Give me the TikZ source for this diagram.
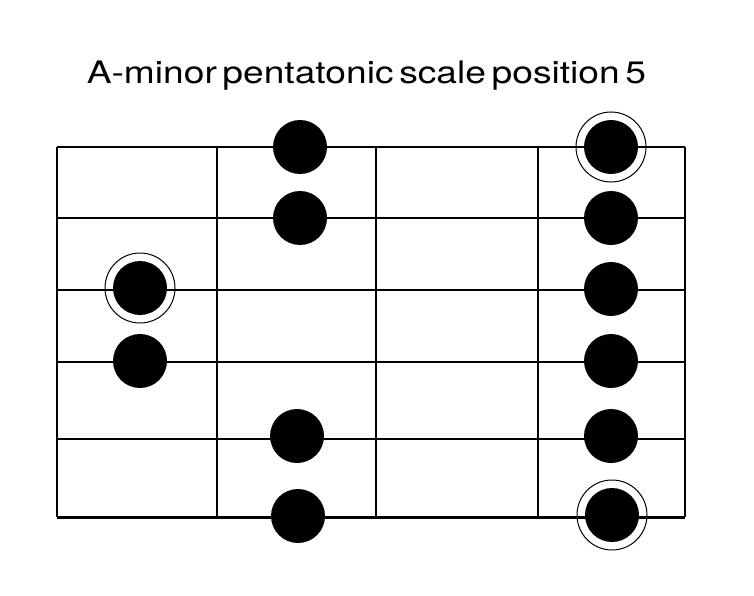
\documentclass[tikz,border=0pt]{standalone}
\usepackage{fontspec}
\setmainfont{TeX Gyre Heros}
\begin{document}
\begin{tikzpicture}[x=1pt,y=-1pt,
  gridline/.style={line width=2pt,black},
  thickstring/.style={line width=3pt,black},
  dotnote/.style={circle,fill=black,minimum size=54pt,inner sep=0pt},
  rootring/.style={circle,draw=black,line width=1pt,minimum size=70pt,inner sep=0pt},
  titletext/.style={font=\fontsize{31pt}{36pt}\selectfont,anchor=base,inner sep=0pt}]
\useasboundingbox[fill=white] (0,0) rectangle (754,596);
% title
\node[titletext] (title) at (366.5,84) {\scalebox{1.2}[1]{\spaceskip=0.15em A-minor pentatonic scale position 5}};
% strings
\foreach \n/\y in {s1/147,s2/218,s3/289.5,s4/361.5,s5/438.5}{
  \coordinate (\n L) at (57,\y);
  \coordinate (\n R) at (685,\y);
  \draw[gridline] (\n L) -- (\n R);
}
\coordinate (s6L) at (57,517);
\coordinate (s6R) at (685,517);
\draw[thickstring] (s6L) -- (s6R);
% frets
\foreach \n/\x in {f0/57,f1/216.5,f2/376,f3/537.5,f4/685}{
  \coordinate (\n T) at (\x,147);
  \coordinate (\n B) at (\x,517);
  \draw[gridline] (\n T) -- (\n B);
}
% rings for root notes
\node[rootring] (r1) at (611,147) {};
\node[rootring] (r2) at (140,288) {};
\node[rootring] (r3) at (612,515) {};
% notes
\node[dotnote] (d1) at (300,147) {};
\node[dotnote] (d2) at (611,147) {};
\node[dotnote] (d3) at (300,218) {};
\node[dotnote] (d4) at (611,218) {};
\node[dotnote] (d5) at (140,288) {};
\node[dotnote] (d6) at (611,289) {};
\node[dotnote] (d7) at (140,361) {};
\node[dotnote] (d8) at (611,361) {};
\node[dotnote] (d9) at (297,436) {};
\node[dotnote] (d10) at (611,436) {};
\node[dotnote] (d11) at (298,516) {};
\node[dotnote] (d12) at (612,515) {};
\end{tikzpicture}
\end{document}
